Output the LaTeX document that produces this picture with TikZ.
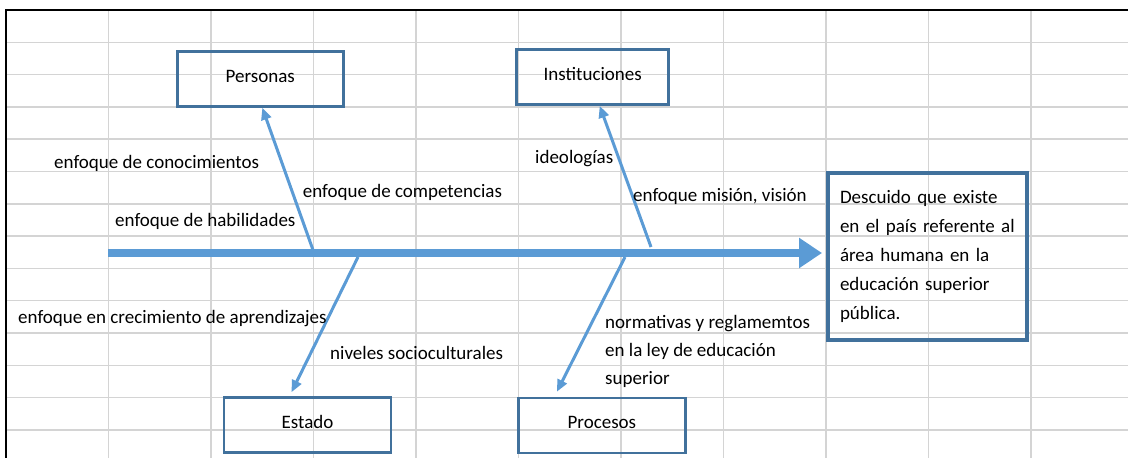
\documentclass[tikz,border=0pt]{standalone}
\usepackage{fontspec}
\setmainfont{Carlito}
\usetikzlibrary{arrows.meta, positioning}

\definecolor{azul}{HTML}{5B9BD5}
\definecolor{borde}{HTML}{41719C}
\definecolor{rejilla}{HTML}{D4D4D4}

\begin{document}
\begin{tikzpicture}
[x=1pt, y=-1pt, font=\fontsize{19}{28}\selectfont,
 caja/.style={draw=borde, line width=2.5pt, minimum width=166pt, minimum height=55pt, inner sep=0pt, text height=12pt, text depth=6pt},
 texto/.style={anchor=base west, inner sep=0pt, align=left},
 eje/.style={draw=azul, line width=8.5pt, -{Triangle[length=23pt,width=29pt]}},
 hueso/.style={draw=azul, line width=3pt, -{Triangle[length=12pt,width=10pt]}}]

\useasboundingbox (0,0) rectangle (1128,458);

% hoja de calculo
\foreach \i in {1,...,10}
	\draw[rejilla, line width=1.5pt] (6+102.5*\i,10) -- (6+102.5*\i,458);
\foreach \j in {1,...,13}
	\draw[rejilla, line width=1.5pt] (6,10+32.3*\j) -- (1128,10+32.3*\j);
\draw[line width=2pt] (6,458) -- (6,10) -- (1128,10);

% cajas
\node[caja] (personas) at (260.3,79) {Personas};
\node[caja, minimum width=152pt] (instituciones) at (592.7,77) {Instituciones};
\node[caja, minimum width=167pt] (estado) at (307.5,425) {Estado};
\node[caja, minimum width=167pt] (procesos) at (601.9,425.5) {Procesos};
\node[draw=borde, line width=3.8pt, text width=175pt, inner xsep=12pt, minimum height=167pt, align=left, font=\fontsize{19}{29}\selectfont] (efecto) at (927.5,256.5)
	{Descuido que existe\\ en el país referente al\\ área humana en la\\ educación superior\\ pública.};

% espina
\coordinate (cola) at (108,253);
\coordinate (punta) at (822,253);
\draw[eje] (cola) -- (punta);

\coordinate (b1) at (313,250);
\coordinate (b2) at (651,247);
\coordinate (b3) at (358,257);
\coordinate (b4) at (625,257);

\draw[hueso] (b1) -- ([xshift=2pt]personas.south);
\draw[hueso] (b2) -- ([xshift=7pt]instituciones.south);
\draw[hueso] (b3) -- ([xshift=-16pt,yshift=4pt]estado.north);
\draw[hueso] (b4) -- ([xshift=-45pt,yshift=5pt]procesos.north);

% causas
\node[texto] (conocimientos) at (54,168.3) {enfoque de conocimientos};
\node[texto] (competencias) at (302.7,197.3) {enfoque de competencias};
\node[texto] (habilidades) at (115,226.7) {enfoque de habilidades};
\node[texto] (ideologias) at (535,163.3) {ideologías};
\node[texto] (mision) at (633,201.7) {enfoque misión, visión};
\node[texto] (crecimiento) at (18,323.3) {enfoque en crecimiento de aprendizajes};
\node[texto] (niveles) at (330,359.3) {niveles socioculturales};
\node[texto] (normativas) at (605,384.7) {normativas y reglamemtos\\ en la ley de educación\\ superior};
\end{tikzpicture}
\end{document}
